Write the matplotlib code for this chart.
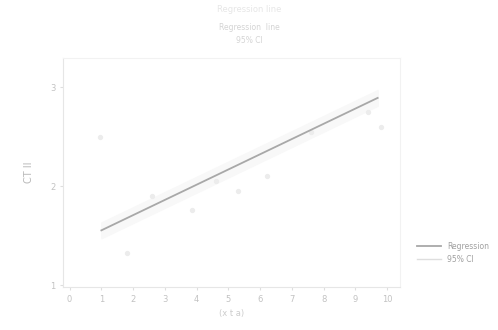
import numpy as np
import matplotlib.pyplot as plt

x_pts = [0.95, 1.8, 2.6, 3.85, 4.6, 5.3, 6.2, 7.6, 9.4, 9.8]
y_pts = [2.5, 1.32, 1.9, 1.76, 2.05, 1.95, 2.1, 2.55, 2.75, 2.6]
x_ticks = list(range(0, 11))
y_ticks = [1, 2, 3]

fit_x = np.array([1.0, 9.7])
slope, intercept = 0.154, 1.40
fit_y = slope * fit_x + intercept

fig = plt.figure(figsize=(4.98, 3.3), dpi=100)
ax = fig.add_axes([0.127, 0.13, 0.676, 0.695])

faint = '#dedede'
ax.scatter(x_pts, y_pts, s=8, color='#ececec', zorder=2)
ax.fill_between(fit_x, fit_y - 0.08, fit_y + 0.08, color='#f8f8f8', zorder=1)
ax.plot(fit_x, fit_y, color='#a8a8a8', lw=1.3, zorder=3, label='Regression')
ax.plot([], [], color=faint, lw=1, label='95% CI')

ax.set_xlim(-0.2, 10.4)
ax.set_ylim(0.98, 3.3)
ax.set_xticks(x_ticks)
ax.set_yticks(y_ticks)
ax.tick_params(colors=faint, labelcolor='#c2c2c2', labelsize=6, length=2)
for s in ax.spines.values():
    s.set_color('#f2f2f2')
    s.set_linewidth(0.8)
ax.spines['left'].set_color('#e6e6e6')
ax.spines['bottom'].set_color('#e6e6e6')

ax.set_xlabel('(x t a)', fontsize=6, color='#cccccc')
ax.set_ylabel('CT II', fontsize=7, color='#b8b8b8', labelpad=12)

fig.text(0.5, 0.985, 'Regression line', ha='center', va='top', fontsize=6, color='#e6e6e6')
fig.text(0.5, 0.93, 'Regression  line\n95% CI', ha='center', va='top', fontsize=5.5,
         color='#d4d4d4', linespacing=1.6)

ax.legend(loc='center left', bbox_to_anchor=(1.03, 0.15), frameon=False, fontsize=5.5,
          labelcolor='#a0a0a0', handlelength=3.2)

fig.savefig('out.png', dpi=100)
